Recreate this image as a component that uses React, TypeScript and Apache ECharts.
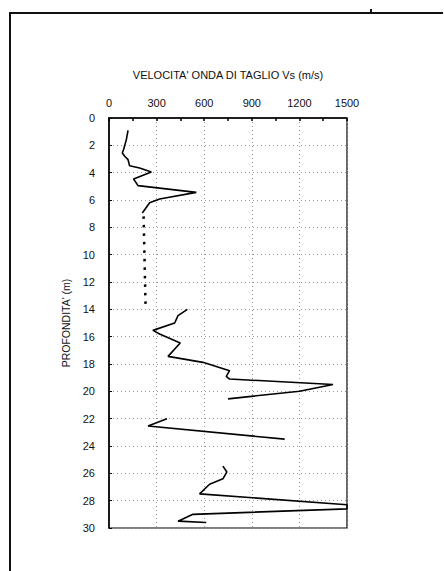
import React, { useEffect, useRef } from "react";
import * as echarts from "echarts";

const xTicks = [0, 300, 600, 900, 1200, 1500];
const depthTicks = [0, 2, 4, 6, 8, 10, 12, 14, 16, 18, 20, 22, 24, 26, 28, 30];

const seg1Vs = [120, 109, 92, 84, 99, 120, 130, 193, 267, 155, 183, 550, 319, 256, 210];
const seg1Depth = [0.9, 1.6, 2.3, 2.56, 2.8, 3.05, 3.5, 3.66, 3.95, 4.46, 4.95, 5.44, 5.93, 6.2, 6.95];

const seg2Vs = [218, 231];
const seg2Depth = [7.2, 14.0];

const seg3Vs = [494, 435, 414, 277, 319, 449, 372, 592, 760, 739, 760, 1412, 1201, 750];
const seg3Depth = [14.0, 14.46, 15.0, 15.54, 15.8, 16.46, 17.44, 17.88, 18.49, 18.9, 19.1, 19.5, 19.99, 20.55];

const seg4Vs = [365, 246, 1107];
const seg4Depth = [22.0, 22.54, 23.5];

const seg5Vs = [718, 743, 718, 634, 571, 1500, 1500, 529, 435, 613];
const seg5Depth = [25.47, 25.9, 26.4, 26.8, 27.5, 28.3, 28.6, 29.0, 29.5, 29.6];

const titleText = "VELOCITA' ONDA DI TAGLIO Vs (m/s)";
const yName = "PROFONDITA' (m)";

const pairs = (xs: number[], ys: number[]) => xs.map((x, i) => [x, ys[i]]);

const FONT = "Liberation Sans, Arial, sans-serif";

export default function App() {
  const ref = useRef<HTMLDivElement>(null);
  useEffect(() => {
    if (!ref.current) return;
    const chart = echarts.init(ref.current, null, { renderer: "svg" });
    const lineSeries = (xs: number[], ys: number[], dotted = false) => ({
      type: "line",
      data: pairs(xs, ys),
      symbol: "none",
      smooth: false,
      lineStyle: dotted
        ? { color: "#000", width: 2.5, type: [2.5, 6] }
        : { color: "#000", width: 1.6 },
      clip: true,
    });
    chart.setOption({
      animation: false,
      backgroundColor: "#fff",
      grid: {
        left: 109,
        top: 118,
        width: 238,
        height: 410,
        show: true,
        borderColor: "#000",
        borderWidth: 1.2,
        backgroundColor: "transparent",
      },
      xAxis: {
        type: "value",
        position: "top",
        min: xTicks[0],
        max: xTicks[xTicks.length - 1],
        interval: 300,
        axisLine: { show: true, lineStyle: { color: "#000", width: 1.5 } },
        axisTick: { show: true, inside: true, length: 3, lineStyle: { color: "#000", width: 1.5 } },
        minorTick: { show: true, splitNumber: 2, length: 3, lineStyle: { color: "#000", width: 1.5 } },
        axisLabel: {
          color: "#111",
          fontSize: 11,
          fontFamily: FONT,
          margin: 10,
          formatter: (v: number) => String(v),
        },
        splitLine: { show: true, lineStyle: { color: "#999", type: [1, 3], width: 1 } },
      },
      yAxis: {
        type: "value",
        inverse: true,
        min: depthTicks[0],
        max: depthTicks[depthTicks.length - 1],
        interval: 2,
        name: yName,
        nameLocation: "middle",
        nameRotate: 90,
        nameGap: 31,
        nameTextStyle: { color: "#111", fontSize: 10.5, fontFamily: FONT },
        axisLine: { show: true, lineStyle: { color: "#000", width: 1.5 } },
        axisTick: { show: true, inside: true, length: 3, lineStyle: { color: "#000", width: 1 } },
        axisLabel: {
          color: "#111",
          fontSize: 11,
          fontFamily: FONT,
          margin: 14,
          formatter: (v: number) => String(v),
        },
        splitLine: { show: true, lineStyle: { color: "#999", type: [1, 3], width: 1 } },
      },
      graphic: [
        {
          type: "text",
          x: 228,
          y: 75,
          style: {
            text: titleText,
            fill: "#111",
            font: `11px ${FONT}`,
            textAlign: "center",
            textVerticalAlign: "middle",
          },
        },
        {
          type: "polyline",
          shape: { points: [[443, 13], [10, 13], [10, 571]] },
          style: { stroke: "#111", lineWidth: 2, fill: "none" },
          z: 100,
        },
        { type: "rect", shape: { x: 370, y: 9, width: 2, height: 5 }, style: { fill: "#111" }, z: 100 },
      ],
      series: [
        lineSeries(seg1Vs, seg1Depth),
        lineSeries(seg2Vs, seg2Depth, true),
        lineSeries(seg3Vs, seg3Depth),
        lineSeries(seg4Vs, seg4Depth),
        lineSeries(seg5Vs, seg5Depth),
      ],
    });
    return () => chart.dispose();
  }, []);
  return <div ref={ref} style={{ width: 444, height: 571, position: "absolute", left: 0, top: 0 }} />;
}
